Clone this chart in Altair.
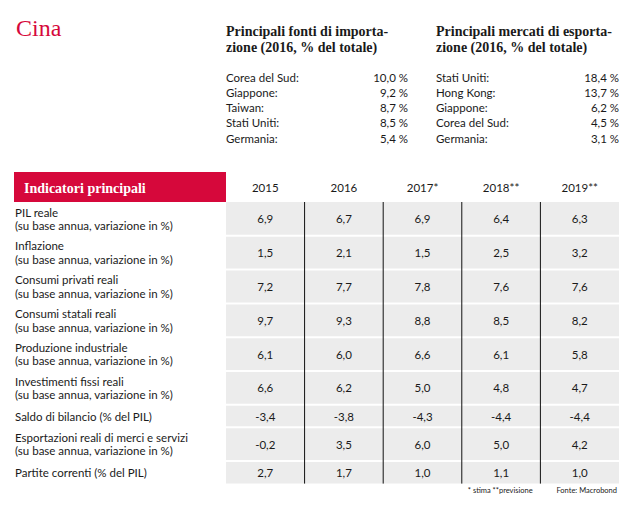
import altair as alt
import pandas as pd

# ---------------- data ----------------
title_text = "Cina"
import_heading = "Principali fonti di importa-\nzione (2016, % del totale)"
export_heading = "Principali mercati di esporta-\nzione (2016, % del totale)"
import_countries = ["Corea del Sud:", "Giappone:", "Taiwan:", "Stati Uniti:", "Germania:"]
import_shares = [10.0, 9.2, 8.7, 8.5, 5.4]
export_countries = ["Stati Uniti:", "Hong Kong:", "Giappone:", "Corea del Sud:", "Germania:"]
export_shares = [18.4, 13.7, 6.2, 4.5, 3.1]

table_header = "Indicatori principali"
years = ["2015", "2016", "2017*", "2018**", "2019**"]
indicator_names = [
    "PIL reale",
    "Inflazione",
    "Consumi privati reali",
    "Consumi statali reali",
    "Produzione industriale",
    "Investimenti fissi reali",
    "Saldo di bilancio (% del PIL)",
    "Esportazioni reali di merci e servizi",
    "Partite correnti (% del PIL)",
]
indicator_notes = [
    "(su base annua, variazione in %)",
    "(su base annua, variazione in %)",
    "(su base annua, variazione in %)",
    "(su base annua, variazione in %)",
    "(su base annua, variazione in %)",
    "(su base annua, variazione in %)",
    "",
    "(su base annua, variazione in %)",
    "",
]
values_2015 = [6.9, 1.5, 7.2, 9.7, 6.1, 6.6, -3.4, -0.2, 2.7]
values_2016 = [6.7, 2.1, 7.7, 9.3, 6.0, 6.2, -3.8, 3.5, 1.7]
values_2017 = [6.9, 1.5, 7.8, 8.8, 6.6, 5.0, -4.3, 6.0, 1.0]
values_2018 = [6.4, 2.5, 7.6, 8.5, 6.1, 4.8, -4.4, 5.0, 1.1]
values_2019 = [6.3, 3.2, 7.6, 8.2, 5.8, 4.7, -4.4, 4.2, 1.0]
footnote = "* stima  **previsione"
source = "Fonte: Macrobond"

# ---------------- style / layout ----------------
RED = "#d6083b"
GREY = "#ececec"
TEXT = "#1a1a1a"
SANS = "Lato"
SERIF = "Liberation Serif"
BODY = 11.5
LINE_H = 11.3
ROW_PAD = 11.2
HALF_GAP = 1.0
HEADER_H = 30.0
LABEL_COLS = 2.697
LABEL_LH = 13.5
DY = 1.5


def fmt(v):
    return f"{v:.1f}".replace(".", ",")


# ---------------- top section ----------------
title_df = pd.DataFrame({"t": [title_text]})
title_layer = alt.Chart(title_df).mark_text(
    font=SERIF, fontSize=24, color=RED, align="left", baseline="alphabetic"
).encode(x=alt.value(8), y=alt.value(28), text="t:N")

head_df = pd.DataFrame({"group": [0, 1], "t": [import_heading, export_heading]})
head_layer = alt.Chart(head_df).mark_text(
    font=SERIF, fontSize=14, fontWeight="bold", color=TEXT, align="left",
    baseline="alphabetic", lineBreak="\n", lineHeight=15.5
).encode(
    x=alt.X("group:Q", scale=alt.Scale(domain=[0, 1], range=[218, 428]), axis=None),
    y=alt.value(28),
    text="t:N",
)

lists_df = pd.DataFrame({
    "group": [0] * len(import_countries) + [1] * len(export_countries),
    "rank": list(range(len(import_countries))) + list(range(len(export_countries))),
    "country": import_countries + export_countries,
    "share": [fmt(v) + " %" for v in import_shares + export_shares],
})
list_labels = alt.Chart(lists_df).mark_text(
    font=SANS, fontSize=BODY, color=TEXT, align="left", baseline="middle", dy=DY
).encode(
    x=alt.X("group:Q", scale=alt.Scale(domain=[0, 1], range=[218, 428]), axis=None),
    y=alt.Y("rank:Q", scale=alt.Scale(domain=[0, 4], range=[69, 130]), axis=None),
    text="country:N",
)
list_values = alt.Chart(lists_df).mark_text(
    font=SANS, fontSize=BODY, color=TEXT, align="right", baseline="middle", dy=DY
).encode(
    x=alt.X("group:Q", scale=alt.Scale(domain=[0, 1], range=[400, 611]), axis=None),
    y=alt.Y("rank:Q", scale=alt.Scale(domain=[0, 4], range=[69, 130]), axis=None),
    text="share:N",
)

# ---------------- table ----------------
rows = []
y = 0.0
for i, (name, note) in enumerate(zip(indicator_names, indicator_notes)):
    n_lines = 2 if note else 1
    h = n_lines * LINE_H + ROW_PAD
    rows.append({
        "row": i,
        "label": name + ("\n" + note if note else ""),
        "y0": y,
        "y1": y + h,
        "yc": y + h / 2,
        "ylab": y + h / 2 - (n_lines - 1) * LABEL_LH / 2,
    })
    y += h
TOTAL = y
n_rows = len(rows)

series = [values_2015, values_2016, values_2017, values_2018, values_2019]
cells = []
for r in rows:
    for j, yr in enumerate(years):
        cells.append({
            "year": yr,
            "x0": j,
            "x1": j + 1,
            "xc": j + 0.5,
            "y0": r["y0"] + (HALF_GAP if r["row"] > 0 else 0),
            "y1": r["y1"] - (HALF_GAP if r["row"] < n_rows - 1 else 0),
            "yc": r["yc"],
            "val": fmt(series[j][r["row"]]),
        })
cells_df = pd.DataFrame(cells)
rows_df = pd.DataFrame(rows)

xs = alt.Scale(domain=[-LABEL_COLS, len(years)], range=[6, 611])
ys = alt.Scale(domain=[-HEADER_H, TOTAL], range=[164, 164 + HEADER_H + TOTAL])


def X(f):
    return alt.X(f, scale=xs, axis=None)


def Y(f):
    return alt.Y(f, scale=ys, axis=None)


header_df = pd.DataFrame({
    "x0": [-LABEL_COLS], "x1": [0], "y0": [-HEADER_H], "y1": [0],
    "yc": [-HEADER_H / 2], "t": [table_header],
})
header_rect = alt.Chart(header_df).mark_rect(color=RED).encode(
    x=X("x0:Q"), x2="x1:Q", y=Y("y0:Q"), y2="y1:Q"
)
header_text = alt.Chart(header_df).mark_text(
    font=SERIF, fontSize=14, fontWeight="bold", color="white", align="left",
    baseline="middle", dx=10, dy=DY
).encode(x=X("x0:Q"), y=Y("yc:Q"), text="t:N")

years_df = pd.DataFrame({
    "year": years,
    "xc": [j + 0.5 for j in range(len(years))],
    "yc": [-HEADER_H / 2] * len(years),
})
year_text = alt.Chart(years_df).mark_text(
    font=SANS, fontSize=BODY, color=TEXT, align="center", baseline="middle", dy=DY
).encode(x=X("xc:Q"), y=Y("yc:Q"), text="year:N")

grey_rects = alt.Chart(cells_df).mark_rect(color=GREY).encode(
    x=X("x0:Q"), x2="x1:Q", y=Y("y0:Q"), y2="y1:Q"
)

vr_df = pd.DataFrame({
    "x": list(range(1, len(years))),
    "y0": [0.0] * (len(years) - 1),
    "y1": [TOTAL] * (len(years) - 1),
})
vrules = alt.Chart(vr_df).mark_rule(color="#111111", strokeWidth=1).encode(
    x=X("x:Q"), y=Y("y0:Q"), y2="y1:Q"
)

value_text = alt.Chart(cells_df).mark_text(
    font=SANS, fontSize=BODY, color=TEXT, align="center", baseline="middle", dy=DY
).encode(x=X("xc:Q"), y=Y("yc:Q"), text="val:N")

rows_df["xl"] = -LABEL_COLS
label_text = alt.Chart(rows_df).mark_text(
    font=SANS, fontSize=BODY, color=TEXT, align="left", baseline="middle",
    lineBreak="\n", lineHeight=LABEL_LH, dx=1, dy=DY
).encode(x=X("xl:Q"), y=Y("ylab:Q"), text="label:N")

foot_df = pd.DataFrame({
    "x": [3.0, float(len(years))],
    "y": [TOTAL + 7, TOTAL + 7],
    "t": [footnote, source],
    "a": ["l", "r"],
})
foot_left = alt.Chart(foot_df[foot_df.a == "l"]).mark_text(
    font=SANS, fontSize=7.5, color=TEXT, align="left", baseline="middle", dx=6
).encode(x=X("x:Q"), y=Y("y:Q"), text="t:N")
foot_right = alt.Chart(foot_df[foot_df.a == "r"]).mark_text(
    font=SANS, fontSize=7.5, color=TEXT, align="right", baseline="middle", dx=-2
).encode(x=X("x:Q"), y=Y("y:Q"), text="t:N")

table = alt.layer(
    header_rect, header_text, year_text, grey_rects, vrules,
    value_text, label_text, foot_left, foot_right
)

chart = alt.layer(
    title_layer, head_layer, list_labels, list_values, table
).resolve_scale(x="independent", y="independent").properties(
    width=623, height=502, padding=0,
    autosize=alt.AutoSizeParams(type="none"),
    background="white",
).configure_view(stroke=None)

chart.save("out.html", embed_options={"renderer": "svg", "actions": False})
